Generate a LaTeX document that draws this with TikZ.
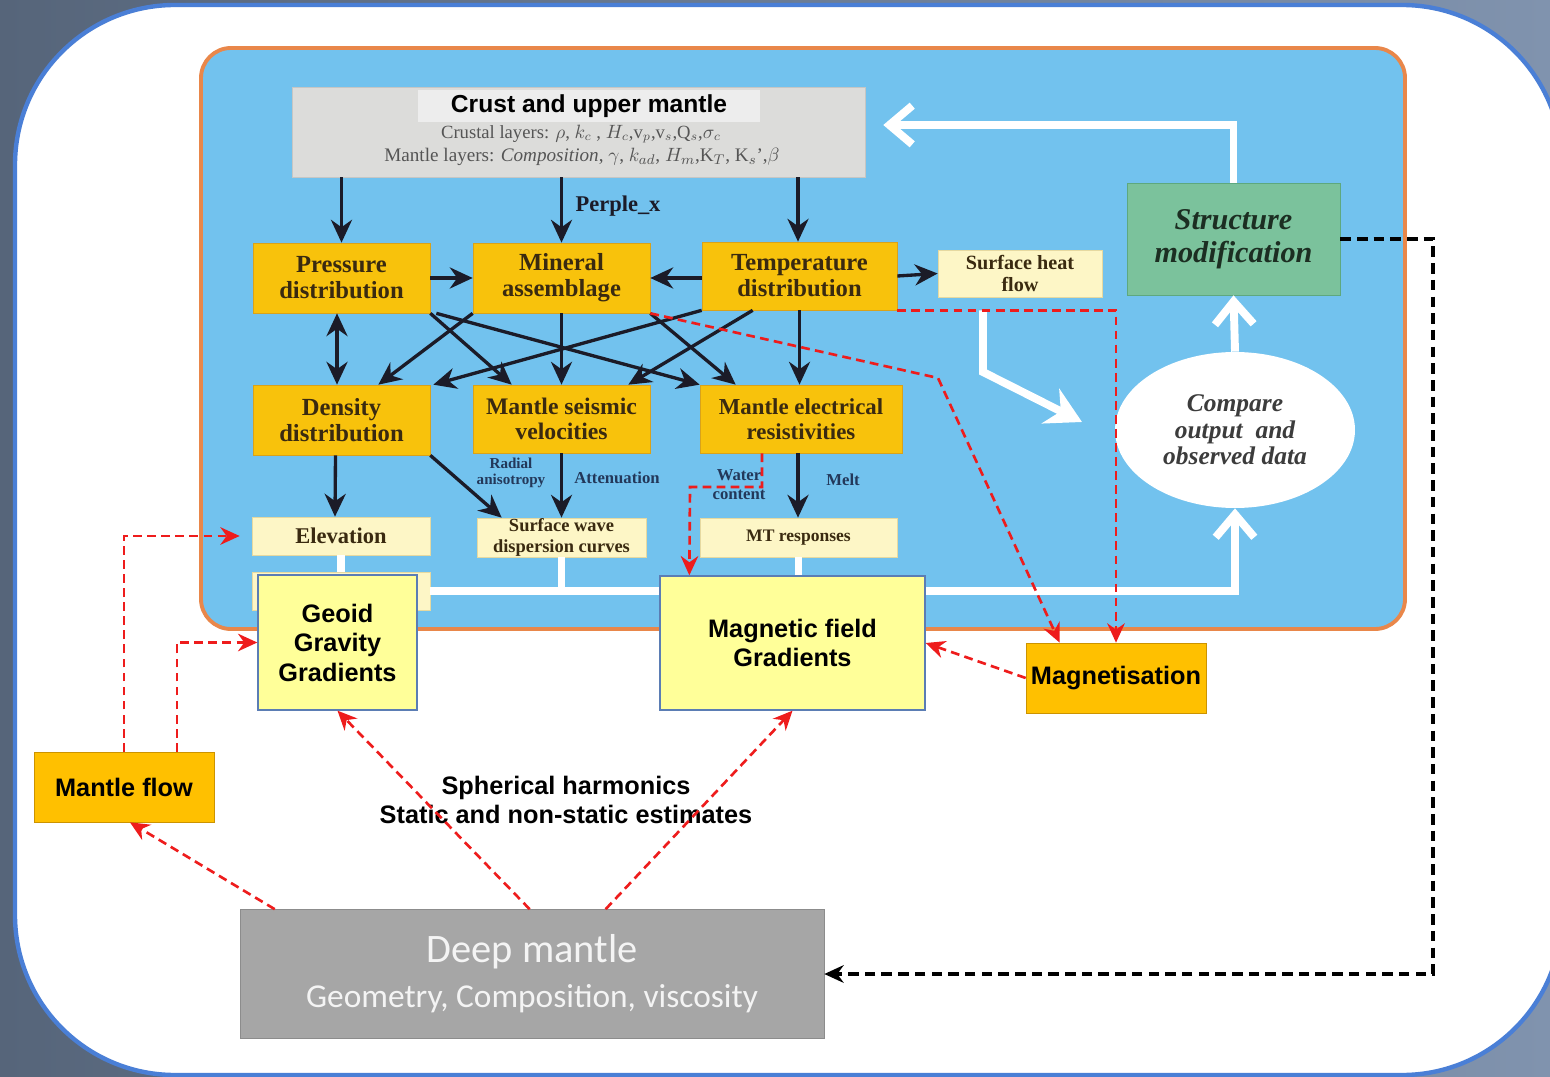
\documentclass[tikz,border=0pt]{standalone}
\usepackage{fontspec}
\setmainfont{Liberation Serif}
\newfontfamily\arialfont{Liberation Sans}
\newfontfamily\calibrifont{Carlito}
\usetikzlibrary{arrows.meta,shapes.geometric}
\definecolor{slatedark}{HTML}{56657A}
\definecolor{slatelight}{HTML}{8093AE}
\definecolor{frameblue}{HTML}{4A7FD6}
\definecolor{panelblue}{HTML}{72C2EE}
\definecolor{panelorange}{HTML}{E9874A}
\definecolor{crustgrey}{HTML}{DCDCDA}
\definecolor{crusttitle}{HTML}{EDEDED}
\definecolor{crusttext}{HTML}{555555}
\definecolor{yellowbox}{HTML}{F8C20C}
\definecolor{yellowline}{HTML}{D9A21A}
\definecolor{browntext}{HTML}{3A2A10}
\definecolor{palebox}{HTML}{FDF6C6}
\definecolor{paleline}{HTML}{E6D9A0}
\definecolor{greenbox}{HTML}{7BC29C}
\definecolor{greenline}{HTML}{5EA87E}
\definecolor{greentext}{HTML}{1C2E22}
\definecolor{geoidbox}{HTML}{FFFF99}
\definecolor{geoidline}{HTML}{5B7DB4}
\definecolor{orangebox}{HTML}{FFC000}
\definecolor{orangeline}{HTML}{CC9300}
\definecolor{deepgrey}{HTML}{A6A6A6}
\definecolor{deepline}{HTML}{8C8C8C}
\definecolor{deeptext}{HTML}{F4F4F4}
\definecolor{dashred}{HTML}{EE1C1C}
\definecolor{arrowblack}{HTML}{1B1B28}
\definecolor{navytext}{HTML}{23385A}
\definecolor{ellipsetext}{HTML}{3C3C3C}
\begin{document}
\begin{tikzpicture}[
    x=0.02cm, y=-0.02cm,
    >=Stealth,
    ybox/.style={
        draw=yellowline,
        fill=yellowbox,
        minimum width=3.54cm,
        minimum height=1.4cm,
        inner sep=0pt,
        align=center,
        text=browntext,
        font=\bfseries\fontsize{14}{14.8}\selectfont
    },
    lbox/.style={
        draw=paleline,
        fill=palebox,
        inner sep=0pt,
        align=center,
        text=browntext,
        font=\bfseries\fontsize{10.5}{11.5}\selectfont
    },
    gbox/.style={
        draw=geoidline,
        fill=geoidbox,
        line width=0.8pt,
        inner sep=0pt,
        align=center,
        font=\arialfont\bfseries\fontsize{14.4}{16.8}\selectfont
    },
    obox/.style={
        draw=orangeline,
        fill=orangebox,
        minimum width=3.6cm,
        minimum height=1.4cm,
        inner sep=0pt,
        font=\arialfont\bfseries\fontsize{14.4}{16}\selectfont
    },
    note/.style={text=navytext, align=center, font=\bfseries\fontsize{9.5}{10.8}\selectfont},
    arr/.style={-{Stealth[length=13pt,width=12pt]}, line width=1.9pt, draw=arrowblack},
    dblarr/.style={{Stealth[length=13pt,width=12pt]}-{Stealth[length=13pt,width=12pt]}, line width=1.9pt, draw=arrowblack},
    reddash/.style={-{Stealth[length=11pt,width=10pt]}, line width=1.5pt, draw=dashred, dash pattern=on 5pt off 3pt},
    blackdash/.style={-{Stealth[length=11pt,width=10pt]}, line width=2pt, draw=black, dash pattern=on 6pt off 3.5pt},
    whiteline/.style={line width=4.5pt, draw=white},
    whitearr/.style={whiteline, -{Straight Barb[length=13pt,width=22pt]}}
]
    \clip (0,0) rectangle (1550,1077);
    \shade[left color=slatedark, right color=slatelight] (0,0) rectangle (1550,1077);
    \draw[frameblue, line width=2.5pt, fill=white, rounded corners=3.2cm] (15,5) rectangle (1562,1075);
    \draw[panelorange, line width=2.2pt, fill=panelblue, rounded corners=0.6cm] (201,48) rectangle (1405,629);

    \node[draw=crustgrey!90!black, fill=crustgrey, minimum width=11.46cm, minimum height=1.8cm] (crust) at (578.5,132) {};
    \node[fill=crusttitle, minimum width=6.84cm, minimum height=0.64cm, inner sep=0pt,
        font=\arialfont\bfseries\fontsize{14}{16}\selectfont] (crusttitle) at (589,106) {Crust and upper mantle};
    \node[text=crusttext, font=\fontsize{10.6}{12}\selectfont] (crustlayers) at (581,134)
        {Crustal layers: $\rho$, $k_c$ , $H_c$,v$_p$,v$_s$,Q$_s$,$\sigma_c$};
    \node[text=crusttext, font=\fontsize{10.9}{12}\selectfont] (mantlelayers) at (582,157)
        {Mantle layers: \textit{Composition}, $\gamma$, $k_{ad}$, $H_m$,K$_T$, K$_s$',$\beta$};

    \node[ybox] (pressure) at (341.5,278) {Pressure\\distribution};
    \node[ybox] (mineral) at (561.5,278) {Mineral\\assemblage};
    \node[ybox, minimum width=3.9cm, minimum height=1.36cm] (temperature) at (799.5,276) {Temperature\\distribution};
    \node[lbox, minimum width=3.28cm, minimum height=0.94cm, font=\bfseries\fontsize{11.5}{12}\selectfont] (heatflow) at (1020,273.5) {Surface heat\\flow};

    \node[ybox] (density) at (341.5,420) {Density\\distribution};
    \node[ybox, minimum height=1.36cm, font=\bfseries\fontsize{13.5}{14}\selectfont] (seismic) at (561.5,419) {Mantle seismic\\velocities};
    \node[ybox, minimum width=4.04cm, minimum height=1.36cm, font=\bfseries\fontsize{13}{14}\selectfont] (electrical) at (801,419) {Mantle electrical\\resistivities};

    \node[lbox, minimum width=3.56cm, minimum height=0.76cm, font=\bfseries\fontsize{12.8}{14}\selectfont] (elevation) at (341,536) {Elevation};
    \node[lbox, minimum width=3.38cm, minimum height=0.78cm] (dispersion) at (561.5,537.5) {Surface wave\\dispersion curves};
    \node[lbox, minimum width=3.94cm, minimum height=0.78cm, font=\bfseries\fontsize{10}{11}\selectfont] (mtresp) at (798.5,537.5) {MT responses};
    \node[lbox, minimum width=3.56cm, minimum height=0.76cm] (gravbox) at (341,591) {};

    \node[draw=greenline, fill=greenbox, minimum width=4.26cm, minimum height=2.24cm, align=center,
        text=greentext, font=\bfseries\itshape\fontsize{17.2}{18.8}\selectfont] (structure) at (1233.5,239) {Structure\\modification};
    \node[ellipse, fill=white, minimum width=4.8cm, minimum height=3.12cm, inner sep=0pt, align=center,
        text=ellipsetext, font=\bfseries\itshape\fontsize{14.5}{15}\selectfont] (compare) at (1235,430) {Compare\\output~~and\\observed data};

    \draw[whitearr] (structure.north) |- ([xshift=0.36cm,yshift=0.14cm]crust.east);
    \draw[whitearr] (compare.north) -- (structure.south);
    \draw[whiteline, -{Stealth[length=20pt,width=22pt]}] ([xshift=-0.74cm,yshift=-0.26cm]heatflow.south) -- (983,372) -- (1082,422);
    \draw[whiteline] (elevation.south) -- (gravbox.north);
    \draw[whiteline] (dispersion.south) -- (dispersion.south |- gravbox.east);
    \draw[whiteline] (mtresp.south) -- (mtresp.south |- gravbox.east);
    \draw[whitearr] (gravbox.east) -| (compare.south);

    \draw[arr] (crust.south -| pressure.north) -- (pressure.north);
    \draw[arr] (crust.south -| mineral.north) -- (mineral.north);
    \draw[arr] ([xshift=-0.03cm]crust.south -| temperature.north) -- ([xshift=-0.03cm]temperature.north);
    \node[text=arrowblack, font=\bfseries\fontsize{12.8}{14}\selectfont] (perplex) at (618,206) {Perple\_x};
    \draw[arr] (pressure.east) -- (mineral.west);
    \draw[arr] (temperature.west |- mineral.east) -- (mineral.east);
    \draw[arr] (temperature.east) -- (heatflow.west);
    \draw[dblarr] ([xshift=-0.09cm]pressure.south) -- ([xshift=-0.09cm]density.north);
    \draw[arr] (pressure.south east) -- ([xshift=0.78cm]seismic.north west);
    \draw[arr] ([xshift=0.12cm]pressure.south east) -- (electrical.north west);
    \draw[arr] (mineral.south west) -- ([xshift=-1.04cm]density.north east);
    \draw[arr] (mineral.south) -- (seismic.north);
    \draw[arr] (mineral.south east) -- ([xshift=0.72cm]electrical.north west);
    \draw[arr] (temperature.south west) -- ([xshift=0.06cm]density.north east);
    \draw[arr] ([xshift=1.02cm]temperature.south west) -- ([xshift=-0.44cm]seismic.north east);
    \draw[arr] (temperature.south) -- (temperature.south |- electrical.north);
    \draw[arr] ([xshift=-0.12cm]density.south) -- ([xshift=-0.12cm]elevation.north);
    \draw[arr] (density.south east) -- ([xshift=0.5cm]dispersion.north west);
    \draw[arr] (seismic.south) -- (dispersion.north);
    \draw[arr] ([xshift=-0.06cm]electrical.south) -- ([xshift=-0.06cm]electrical.south |- mtresp.north);
    \node[note, font=\bfseries\fontsize{8.6}{9}\selectfont] (radial) at (511,473) {Radial\\anisotropy};
    \node[note] (attenuation) at (617,478) {Attenuation};
    \node[note] (water) at (739,485) {Water\\content};
    \node[note] (melt) at (843,480) {Melt};

    \node[gbox, minimum width=3.18cm, minimum height=2.7cm] (geoid) at (337.5,642.5) {Geoid\\Gravity\\Gradients};
    \node[gbox, minimum width=5.3cm, minimum height=2.68cm] (magnetic) at (792.5,643) {Magnetic field\\Gradients};
    \node[obox] (magnetisation) at (1116,678) {Magnetisation};
    \node[obox] (mantleflow) at (124,787) {Mantle flow};
    \node[draw=deepline, fill=deepgrey, minimum width=11.68cm, minimum height=2.58cm, align=center,
        text=deeptext, font=\calibrifont\fontsize{19}{25.6}\selectfont] (deep) at (532,974)
        {{\fontsize{23}{25.6}\selectfont Deep mantle}\\Geometry, Composition, viscosity};
    \node[align=center, font=\arialfont\bfseries\fontsize{14.4}{16.5}\selectfont] (harmonics) at (566,800)
        {Spherical harmonics\\Static and non-static estimates};

    \draw[reddash] (mineral.south east) -- (938,378) -- ([xshift=0.68cm]magnetisation.north west);
    \draw[reddash] (temperature.south east) -| (magnetisation.north);
    \draw[reddash] ([xshift=-0.78cm]electrical.south) |- (690,487) -- ([xshift=0.6cm]magnetic.north west);
    \draw[reddash] (magnetisation.west) -- (magnetic.east);
    \draw[reddash] (mantleflow.north) |- ([xshift=-0.24cm]elevation.west);
    \draw[reddash] ([xshift=1.06cm]mantleflow.north) |- (geoid.west);
    \draw[reddash] ([xshift=0.7cm]deep.north west) -- ([xshift=0.12cm]mantleflow.south);
    \draw[reddash] ([xshift=5.8cm]deep.north west) -- (geoid.south);
    \draw[reddash] ([xshift=7.32cm]deep.north west) -- (magnetic.south);

    \coordinate (loop) at (1433,974);
    \draw[blackdash] (structure.east) -| (loop) -- (deep.east);
\end{tikzpicture}
\end{document}
